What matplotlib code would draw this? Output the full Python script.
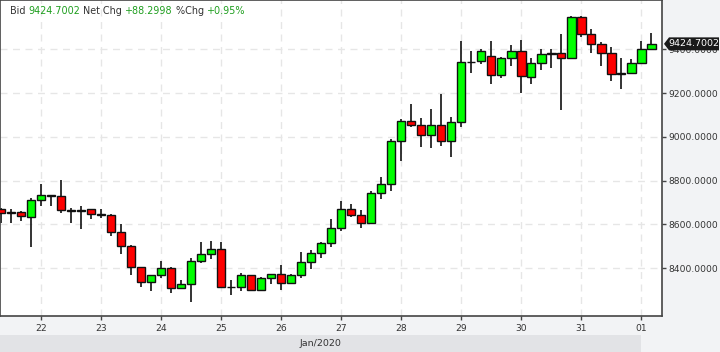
import matplotlib
matplotlib.use("Agg")
import matplotlib.pyplot as plt
from matplotlib.patches import Rectangle, Polygon

# 4-hour candles, x in days of Jan 2020 (32 = Feb 01)
start_day = 21 + 8 / 24
step = 4 / 24

opens = [8669, 8652, 8656, 8633, 8710, 8735, 8730, 8665, 8662, 8669, 8647,
         8642, 8564, 8500, 8405, 8336, 8368, 8400, 8309, 8327, 8432, 8464,
         8487, 8316, 8313, 8368, 8300, 8354, 8373, 8332, 8368, 8427, 8468,
         8514, 8583, 8669, 8642, 8605, 8742, 8784, 8980, 9071, 9053, 9007,
         9053, 8980, 9067, 9341, 9345, 9368, 9281, 9359, 9391, 9272, 9336,
         9377, 9382, 9359, 9546, 9468, 9422, 9381, 9286, 9290, 9336, 9400]
highs = [8675, 8669, 8662, 8721, 8785, 8736, 8803, 8674, 8684, 8670, 8671,
         8648, 8602, 8506, 8407, 8369, 8433, 8405, 8347, 8447, 8520, 8525,
         8520, 8347, 8377, 8370, 8358, 8375, 8414, 8372, 8474, 8484, 8520,
         8624, 8707, 8694, 8666, 8752, 8817, 8990, 9082, 9150, 9085, 9127,
         9196, 9091, 9438, 9392, 9401, 9438, 9363, 9420, 9441, 9359, 9400,
         9400, 9468, 9551, 9552, 9491, 9432, 9409, 9359, 9354, 9436, 9473]
lows = [8605, 8605, 8617, 8499, 8686, 8686, 8651, 8608, 8581, 8627, 8628,
        8549, 8467, 8371, 8316, 8295, 8354, 8286, 8307, 8248, 8423, 8444,
        8310, 8280, 8298, 8298, 8298, 8330, 8302, 8328, 8357, 8398, 8448,
        8499, 8572, 8633, 8585, 8603, 8718, 8754, 8891, 9047, 8955, 8951,
        8960, 8910, 9047, 9290, 9334, 9240, 9270, 9325, 9202, 9243, 9307,
        9316, 9121, 9357, 9454, 9385, 9322, 9254, 9217, 9286, 9334, 9398]
closes = [8651, 8656, 8639, 8710, 8733, 8729, 8665, 8662, 8664, 8647, 8643,
          8564, 8500, 8405, 8336, 8368, 8400, 8309, 8327, 8432, 8464, 8487,
          8316, 8314, 8368, 8300, 8354, 8373, 8332, 8368, 8427, 8468, 8514,
          8583, 8669, 8642, 8605, 8742, 8784, 8980, 9071, 9053, 9007, 9053,
          8980, 9067, 9341, 9343, 9391, 9281, 9359, 9391, 9277, 9336, 9377,
          9381, 9359, 9546, 9468, 9422, 9381, 9286, 9290, 9336, 9400, 9424.7002]

day_ticks = list(range(22, 33))
day_labels = ["22", "23", "24", "25", "26", "27", "28", "29", "30", "31", "01"]
price_ticks = [8400, 8600, 8800, 9000, 9200, 9400]
last_price = 9424.7002
net_chg = "+88.2998"
pct_chg = "+0.95%"
month_label = "Jan/2020"

W, H = 720, 352
bg = "#f2f3f5"
fig = plt.figure(figsize=(7.2, 3.52), dpi=100, facecolor=bg)
ax = fig.add_axes([0, 36 / H, 662 / W, 316 / H])
ax.set_facecolor("white")

times = [start_day + i * step for i in range(len(opens))]
for t, o, h, l, c in zip(times, opens, highs, lows, closes):
    ax.vlines(t, l, h, color="#111111", lw=1.2, zorder=2)
    col = "#00ff00" if c >= o else "#ff0000"
    body = max(abs(c - o), 1.5)
    ax.bar(t, body, bottom=min(o, c), width=0.14, color=col,
           edgecolor="#111111", lw=1, zorder=3)

ax.set_xlim(22 - 41.3 / 60, 22 + (662 - 41.3) / 60)
ax.set_ylim(8182, 9625)
ax.set_xticks(day_ticks)
ax.set_xticklabels(day_labels)
ax.set_yticks(price_ticks)
ax.set_yticklabels(["%.4f" % p for p in price_ticks])
ax.yaxis.tick_right()
ax.tick_params(axis="both", direction="out", length=3, width=1,
               color="#444444", labelcolor="#333333", labelsize=6.6)
ax.tick_params(axis="x", pad=3)
ax.tick_params(axis="y", pad=1.5)
ax.grid(True, color="#e6e6e6", linestyle=(0, (5, 4)), lw=1, zorder=0)
for s in ax.spines.values():
    s.set_color("#444444")
    s.set_linewidth(1.2)

# month band under the axis
x_feb = (32 - (22 - 41.3 / 60)) * 60
fig.patches.append(Rectangle((0, 0), x_feb / W, 17 / H, transform=fig.transFigure,
                             facecolor="#e2e3e6", edgecolor="none", zorder=0))
fig.text(x_feb / 2 / W, 8.5 / H, month_label, ha="center", va="center",
         fontsize=6.8, color="#333333")

# last price tag
yp = ax.transData.transform((0, last_price))[1]
px = [664, 669, 719, 719, 669]
py = [yp, yp - 6.5, yp - 6.5, yp + 6.5, yp + 6.5]
tag = Polygon([(x / W, y / H) for x, y in zip(px, py)], closed=True,
              transform=fig.transFigure, facecolor="#1a1a1a", edgecolor="none",
              zorder=10)
fig.patches.append(tag)
fig.text(693.5 / W, yp / H, "%.4f" % last_price, ha="center", va="center",
         fontsize=6.8, color="white", zorder=11)

# header line
parts = [("Bid ", "#333333"), ("%.4f" % last_price, "#1e9e1e"),
         (" Net Chg ", "#333333"), (net_chg, "#1e9e1e"),
         (" %Chg ", "#333333"), (pct_chg, "#1e9e1e")]
renderer = fig.canvas.get_renderer()
x = 10
for txt, col in parts:
    t = fig.text(x / W, (H - 11) / H, txt, ha="left", va="center",
                 fontsize=6.9, color=col)
    x += t.get_window_extent(renderer).width

fig.savefig("out.png", dpi=100, facecolor=bg)
